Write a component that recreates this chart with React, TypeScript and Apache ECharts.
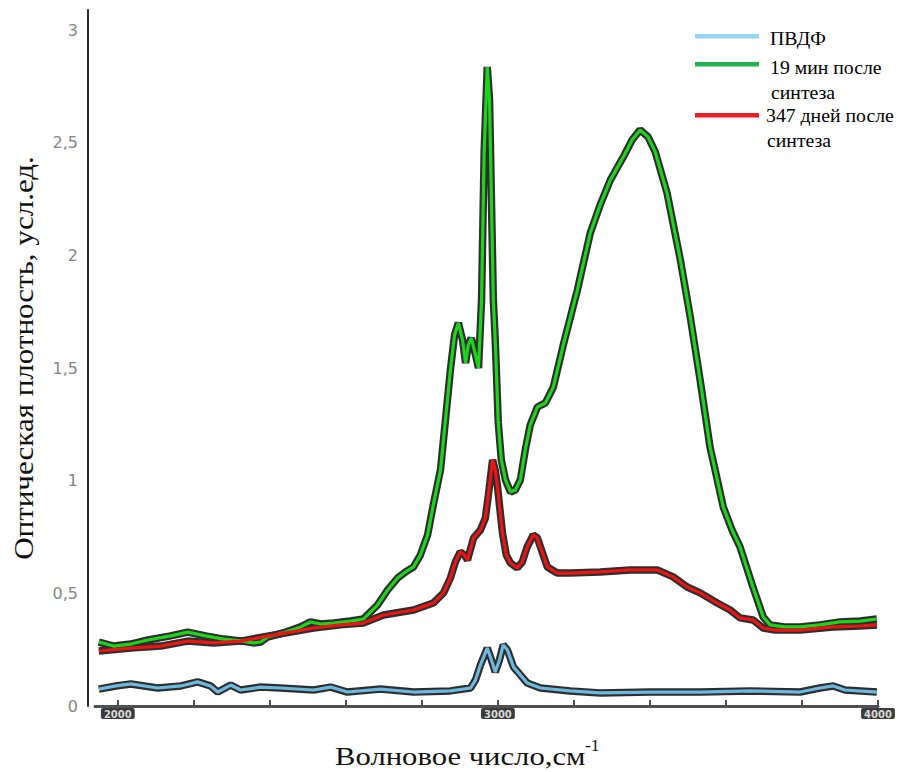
import React, { useEffect, useRef } from "react";
import * as echarts from "echarts";

const seriesNames = ["ПВДФ", "19 мин после синтеза", "347 дней после синтеза"];
const legendLines = [["ПВДФ"], ["19 мин после", "синтеза"], ["347 дней после", "синтеза"]];

// wavenumber (cm-1), optical density
const pvdf: [number, number][] = [
  [1950, 0.075], [1995, 0.089], [2034, 0.098], [2105, 0.08], [2166, 0.089], [2210, 0.107],
  [2244, 0.089], [2263, 0.062], [2297, 0.093], [2323, 0.071], [2376, 0.084], [2428, 0.08],
  [2515, 0.071], [2560, 0.084], [2604, 0.062], [2691, 0.075], [2778, 0.062], [2875, 0.067],
  [2928, 0.08], [2941, 0.115], [2954, 0.182], [2972, 0.257], [2983, 0.204], [2993, 0.151],
  [3004, 0.204], [3014, 0.271], [3025, 0.249], [3041, 0.173], [3059, 0.138], [3077, 0.102],
  [3112, 0.08], [3190, 0.067], [3269, 0.058], [3401, 0.062], [3532, 0.062], [3664, 0.067],
  [3795, 0.062], [3847, 0.08], [3882, 0.089], [3913, 0.071], [3997, 0.062],
];

const min19: [number, number][] = [
  [1950, 0.284], [1989, 0.266], [2034, 0.275], [2079, 0.293], [2139, 0.311], [2184, 0.328],
  [2231, 0.311], [2279, 0.297], [2323, 0.289], [2357, 0.28], [2376, 0.284], [2394, 0.306],
  [2442, 0.328], [2481, 0.351], [2507, 0.373], [2534, 0.364], [2568, 0.368], [2612, 0.377],
  [2646, 0.386], [2683, 0.448], [2710, 0.515], [2736, 0.568], [2757, 0.595], [2778, 0.617],
  [2796, 0.67], [2815, 0.759], [2830, 0.892], [2849, 1.048], [2862, 1.269], [2875, 1.491],
  [2886, 1.647], [2896, 1.7], [2907, 1.624], [2915, 1.522], [2922, 1.602], [2930, 1.633],
  [2938, 1.58], [2949, 1.5], [2957, 1.802], [2964, 2.468], [2972, 2.836], [2978, 2.69],
  [2983, 2.246], [2988, 1.802], [2993, 1.624], [3001, 1.256], [3009, 1.092], [3020, 1.003],
  [3033, 0.95], [3046, 0.959], [3059, 1.003], [3072, 1.136], [3085, 1.247], [3104, 1.327],
  [3125, 1.345], [3146, 1.416], [3172, 1.602], [3209, 1.846], [3243, 2.099], [3269, 2.224],
  [3296, 2.335], [3330, 2.437], [3353, 2.512], [3374, 2.557], [3395, 2.526], [3414, 2.459],
  [3445, 2.277], [3480, 1.98], [3506, 1.727], [3532, 1.447], [3558, 1.15], [3593, 0.883],
  [3616, 0.781], [3637, 0.706], [3671, 0.528], [3698, 0.395], [3716, 0.36], [3755, 0.351],
  [3795, 0.351], [3847, 0.36], [3900, 0.373], [3953, 0.377], [3997, 0.386],
];

const days347: [number, number][] = [
  [1950, 0.244], [2034, 0.257], [2113, 0.266], [2184, 0.288], [2252, 0.28], [2323, 0.288],
  [2428, 0.32], [2515, 0.346], [2586, 0.36], [2646, 0.368], [2699, 0.404], [2778, 0.426],
  [2830, 0.457], [2857, 0.502], [2875, 0.568], [2888, 0.639], [2901, 0.684], [2912, 0.67],
  [2920, 0.648], [2936, 0.746], [2954, 0.781], [2967, 0.834], [2975, 0.937], [2986, 1.092],
  [2993, 1.047], [2999, 0.972], [3012, 0.768], [3022, 0.67], [3033, 0.635], [3051, 0.613],
  [3064, 0.639], [3077, 0.706], [3093, 0.759], [3104, 0.746], [3112, 0.706], [3130, 0.617],
  [3156, 0.59], [3190, 0.59], [3269, 0.595], [3348, 0.604], [3419, 0.604], [3461, 0.573],
  [3498, 0.528], [3532, 0.502], [3577, 0.457], [3611, 0.426], [3637, 0.391], [3671, 0.382],
  [3698, 0.346], [3729, 0.337], [3795, 0.337], [3882, 0.351], [3953, 0.355], [3997, 0.36],
];

const xTicks = [2000, 2200, 2400, 2600, 2800, 3000, 3200, 3400, 3600, 3800, 4000];
const xLabels = [2000, 3000, 4000];
const yLabels = [0, 0.5, 1, 1.5, 2, 2.5, 3];

const lineColors = ["#6cb9df", "#1cd41c", "#ee1414"];
const legendColors = ["#96d5ee", "#22b14c", "#ed1c24"];

const serif = "'Liberation Serif', 'Times New Roman', serif";

export default function App() {
  const ref = useRef<HTMLDivElement>(null);
  useEffect(() => {
    if (!ref.current) return;
    const chart = echarts.init(ref.current, null, { renderer: "svg" });
    const datasets = [pvdf, min19, days347];
    const outline = datasets.map((d, i) => ({
      name: "outline" + i,
      type: "line",
      data: d,
      showSymbol: false,
      lineStyle: { color: "#2e2e2e", width: 7.5 },
      z: 2,
      silent: true,
    }));
    const colored = datasets.map((d, i) => ({
      name: seriesNames[i],
      type: "line",
      data: d,
      showSymbol: false,
      lineStyle: { color: lineColors[i], width: 3.2 },
      itemStyle: { color: lineColors[i] },
      z: 3,
    }));
    const legendGraphics: any[] = [];
    const lineY = [36, 64, 115];
    const textY = [[39], [68, 93], [116, 141]];
    const textX = [770, 770, 766];
    legendLines.forEach((lines, i) => {
      legendGraphics.push({
        type: "rect",
        shape: { x: 695, y: lineY[i] - 2, width: 64, height: 4.5 },
        style: { fill: legendColors[i] },
      });
      lines.forEach((t, j) => {
        legendGraphics.push({
          type: "text",
          x: j === 0 ? textX[i] : textX[i] + 1,
          y: textY[i][j],
          scaleX: 1.04,
          style: {
            text: t,
            fontFamily: serif,
            fontSize: 19,
            fill: "#000",
            textVerticalAlign: "middle",
          },
        });
      });
    });
    chart.setOption({
      animation: false,
      grid: { left: 95, right: 26, top: 10, bottom: 66 },
      xAxis: {
        type: "value",
        min: 1940,
        max: 4000,
        splitLine: { show: false },
        axisLine: { show: true, lineStyle: { color: "#505050", width: 3 } },
        axisTick: {
          show: true,
          inside: true,
          length: 6,
          customValues: xTicks,
          lineStyle: { color: "#505050", width: 2 },
        },
        axisLabel: {
          customValues: xLabels,
          formatter: (v: number) => String(v),
          color: "#d8d8d8",
          backgroundColor: "#3c3c3c",
          borderRadius: 2,
          padding: [1, 3, 0, 3],
          fontSize: 10,
          fontWeight: "bold",
          fontFamily: "DejaVu Sans",
          margin: 2,
        },
      },
      yAxis: {
        type: "value",
        min: 0,
        max: 3.089,
        offset: 7,
        splitLine: { show: false },
        axisLine: { show: true, lineStyle: { color: "#2a2a2a", width: 2 } },
        axisTick: { show: false },
        axisLabel: {
          customValues: yLabels,
          formatter: (v: number) => String(v).replace(".", ","),
          color: "#858585",
          fontSize: 16,
          fontFamily: "DejaVu Sans",
          margin: 10,
        },
      },
      series: [...outline, ...colored],
      graphic: [
        {
          type: "text",
          x: 24,
          y: 358,
          rotation: Math.PI / 2,
          scaleX: 1.15,
          style: {
            text: "Оптическая плотность, усл.ед.",
            fontFamily: serif,
            fontSize: 27,
            fill: "#111",
            textAlign: "center",
            textVerticalAlign: "middle",
          },
        },
        {
          type: "text",
          x: 335,
          y: 756,
          scaleX: 1.18,
          style: {
            text: "Волновое число,см",
            fontFamily: serif,
            fontSize: 26,
            fill: "#111",
            textAlign: "left",
            textVerticalAlign: "middle",
          },
        },
        {
          type: "text",
          x: 585,
          y: 746,
          scaleX: 1.1,
          style: {
            text: "-1",
            fontFamily: serif,
            fontSize: 16,
            fill: "#111",
            textAlign: "left",
            textVerticalAlign: "middle",
          },
        },
        ...legendGraphics,
      ],
    });
    return () => chart.dispose();
  }, []);
  return (
    <div
      ref={ref}
      style={{ position: "fixed", left: 0, top: 0, width: 904, height: 772, background: "#fff" }}
    />
  );
}
